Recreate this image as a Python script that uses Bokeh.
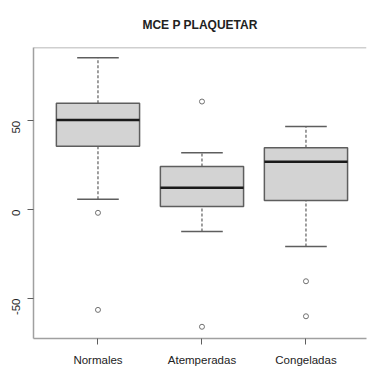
from bokeh.plotting import figure
from bokeh.models import FixedTicker, Span, ColumnDataSource
from bokeh.embed import file_html
from bokeh.resources import INLINE
import math

# Data
categories = ["Normales", "Atemperadas", "Congeladas"]
positions = [1, 2, 3]
whisker_low = [5.9, -12.3, -20.7]
q1 = [35.7, 1.8, 5.1]
median = [50.4, 12.3, 26.9]
q3 = [59.9, 24.2, 34.8]
whisker_high = [85.5, 32.0, 46.7]
outlier_group = [1, 1, 2, 2, 3, 3]
outlier_value = [-1.8, -56.4, 60.8, -65.9, -40.3, -60.0]

y_ticks = [-50, 0, 50]
title_text = "MCE P PLAQUETAR"

FONT = "Liberation Sans"
LINE = "#5e5e5e"
FRAME = "#a0a0a0"

p = figure(width=367, height=368, output_backend="svg", toolbar_location=None,
           x_range=(0.38, 3.582), y_range=(-72.5, 91.2),
           min_border_left=33, min_border_right=1, min_border_top=44, min_border_bottom=26,
           title=title_text)
p.outline_line_color = None
p.xgrid.visible = False
p.ygrid.visible = False
p.background_fill_color = "white"
p.border_fill_color = "white"

p.title.align = "center"
p.title.text_font = FONT
p.title.text_font_size = "12px"
p.title.text_font_style = "bold"
p.title.text_color = "#222222"
p.title.standoff = 31

# axes
p.xaxis.ticker = FixedTicker(ticks=positions)
p.xaxis.major_label_overrides = {pos: c for pos, c in zip(positions, categories)}
p.yaxis.ticker = FixedTicker(ticks=y_ticks)
p.yaxis.major_label_overrides = {t: str(t) for t in y_ticks}
p.yaxis.major_label_orientation = math.pi / 2
for ax in (p.xaxis[0], p.yaxis[0]):
    ax.axis_line_color = FRAME
    ax.axis_line_width = 1.5
    ax.major_tick_line_color = LINE
    ax.major_tick_line_width = 1
    ax.major_tick_out = 6
    ax.major_tick_in = 0
    ax.minor_tick_line_color = None
    ax.major_label_text_font = FONT
    ax.major_label_text_font_size = "11.5px"
    ax.major_label_text_color = "#222222"
p.xaxis.major_label_standoff = 9
p.yaxis.major_label_standoff = 11

# top frame line
p.add_layout(Span(location=91.2, dimension="width", line_color=FRAME, line_width=1.5))

src = ColumnDataSource(dict(x=positions, lo=whisker_low, q1=q1, med=median, q3=q3, hi=whisker_high,
                            cl=[x - 0.2 for x in positions], cr=[x + 0.2 for x in positions],
                            bl=[x - 0.4 for x in positions], br=[x + 0.4 for x in positions]))

# whiskers
p.segment(x0="x", y0="q3", x1="x", y1="hi", source=src, line_color=LINE, line_width=1.2, line_dash="3 2")
p.segment(x0="x", y0="lo", x1="x", y1="q1", source=src, line_color=LINE, line_width=1.2, line_dash="3 2")
# caps
p.segment(x0="cl", y0="hi", x1="cr", y1="hi", source=src, line_color=LINE, line_width=1.5)
p.segment(x0="cl", y0="lo", x1="cr", y1="lo", source=src, line_color=LINE, line_width=1.5)
# boxes
p.quad(left="bl", right="br", bottom="q1", top="q3", source=src,
       fill_color="#d3d3d3", line_color=LINE, line_width=1.5)
# medians
p.segment(x0="bl", y0="med", x1="br", y1="med", source=src, line_color="#1a1a1a", line_width=2.5)
# outliers
p.scatter(x=outlier_group, y=outlier_value, marker="circle", size=5,
          fill_color=None, line_color="#707070", line_width=1)

open("out.html", "w").write(file_html(p, INLINE))
